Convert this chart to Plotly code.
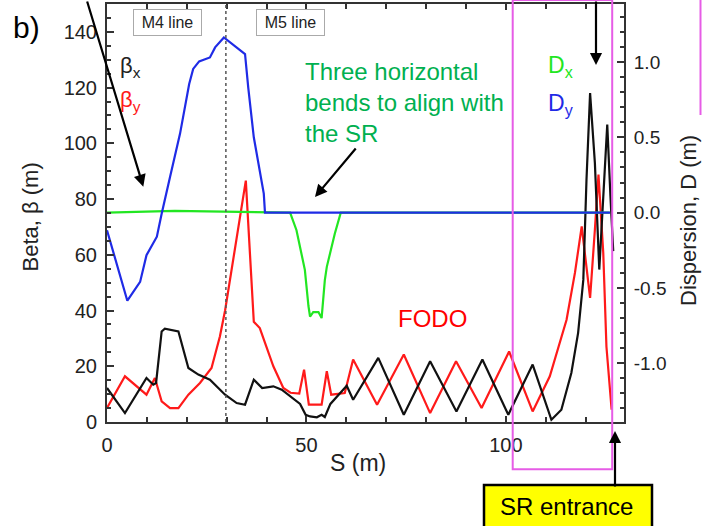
import plotly.graph_objects as go

# ---------------- data ----------------
s_bx = [0, 4.5, 9.9, 11.6, 12.3, 13.7, 14.5, 17.9, 20.4, 22.9, 25.8, 29.6, 32.5, 34.6,
        36.8, 38.9, 41.7, 43.8, 48.4, 49.8, 50.9, 52.6, 53.8, 54.6, 56.0, 58.0, 60.1,
        61.7, 68.0, 74.4, 81.0, 87.6, 94.1, 100.6, 106.7, 111.4, 113.9, 116.4, 118.1,
        119.4, 120.2, 121.1, 122.3, 123.4, 124.4, 125.4, 126.2, 126.9]
beta_x = [12.2, 3.2, 15.8, 13.4, 14.0, 32.5, 33.5, 32.5, 19.4, 17.0, 15.2, 9.8, 6.8, 6.2,
          15.2, 12.2, 12.8, 11.6, 6.5, 2.6, 2.0, 1.7, 2.6, 1.8, 6.5, 9.5, 13.0,
          8.0, 23.0, 2.6, 21.8, 3.8, 22.4, 2.6, 20.6, 0.8, 4.4, 17.6, 32.0,
          51.0, 87.0, 118.0, 93.0, 54.7, 79.8, 106.7, 81.0, 61.3]

s_by = [0, 4.5, 9.9, 12.0, 13.7, 15.8, 17.9, 20.4, 23.3, 26.2, 28.3, 29.6, 34.8, 36.2,
        36.8, 38.3, 41.7, 44.2, 46.0, 48.2, 49.4, 50.6, 53.8, 55.1, 56.2, 59.6, 61.7,
        67.7, 74.4, 81.0, 87.5, 93.9, 100.8, 106.7, 111.0, 115.2, 117.3, 119.0, 120.2,
        121.1, 122.3, 123.2, 124.4, 125.2, 126.5]
beta_y = [5.0, 16.4, 9.8, 15.8, 7.4, 5.0, 5.0, 9.8, 14.0, 19.4, 30.7, 40.0, 86.6, 51.0,
          36.0, 33.7, 20.0, 12.2, 10.5, 10.2, 18.8, 6.2, 6.2, 18.2, 9.8, 10.4, 22.4,
          6.2, 24.2, 3.2, 21.8, 5.0, 25.3, 3.8, 16.4, 36.7, 53.5, 70.2, 55.9,
          44.5, 69.0, 88.8, 60.7, 27.0, 4.4]

s_dx = [0, 10, 17, 25, 35, 45.9, 47.5, 48.8, 49.6, 50.5, 50.9, 51.7, 53.0, 53.8, 54.6,
        55.1, 55.9, 57.1, 58.6, 126.0]
disp_x = [0.0, 0.008, 0.012, 0.008, 0.003, 0.0, -0.117, -0.27, -0.38, -0.62, -0.69, -0.66,
          -0.66, -0.70, -0.45, -0.36, -0.27, -0.14, 0.0, 0.0]

s_dy = [0, 5.1, 8.3, 9.9, 12.5, 13.7, 15.8, 18.3, 20.6, 21.6, 23.1, 25.8, 27.1, 29.3,
        34.6, 35.4, 36.8, 38.3, 39.3, 39.6, 126.1]
disp_y = [-0.117, -0.585, -0.46, -0.283, -0.16, -0.007, 0.236, 0.523, 0.854, 0.954, 1.004,
          1.03, 1.097, 1.163, 1.053, 0.832, 0.50, 0.28, 0.126, 0.0, 0.0]

x_ticks = [0, 50, 100]
beta_ticks = [0, 20, 40, 60, 80, 100, 120, 140]
d_ticks = [-1.0, -0.5, 0.0, 0.5, 1.0]
d_labels = ["-1.0", "-0.5", "0.0", "0.5", "1.0"]
line_sep_s = 29.8

# ---------------- figure ----------------
W, H = 702, 526
ML, MR, MT, MB = 107, 78, 4, 104
PW, PH = W - ML - MR, H - MT - MB
FONT = "Liberation Sans, Arial, sans-serif"


def px(x):
    return (x - ML) / PW


def py(y):
    return (H - MB - y) / PH


fig = go.Figure()
fig.add_trace(go.Scatter(x=s_dx, y=disp_x, yaxis="y2", mode="lines",
                         line=dict(color="#22e622", width=2.2), name="Dx"))
fig.add_trace(go.Scatter(x=s_dy, y=disp_y, yaxis="y2", mode="lines",
                         line=dict(color="#1f2be6", width=2.2), name="Dy"))
fig.add_trace(go.Scatter(x=s_by, y=beta_y, mode="lines",
                         line=dict(color="#ff1a1a", width=2.2), name="βy"))
fig.add_trace(go.Scatter(x=s_bx, y=beta_x, mode="lines",
                         line=dict(color="#111111", width=2.2), name="βx"))

axis_col = "#333333"
fig.update_layout(
    width=W, height=H,
    margin=dict(l=ML, r=MR, t=MT, b=MB, autoexpand=False),
    paper_bgcolor="white", plot_bgcolor="white",
    showlegend=False,
    font=dict(family=FONT, color="#222222"),
    xaxis=dict(range=[0, 129.6], tickvals=x_ticks, ticks="inside", ticklen=6,
               tickwidth=1.5, tickcolor=axis_col,
               minor=dict(dtick=10, ticks="inside", ticklen=5, tickcolor=axis_col, tickwidth=1.5),
               showline=True, linecolor=axis_col, linewidth=2, mirror="ticks",
               showgrid=False, zeroline=False,
               tickfont=dict(size=20, color="#222222"), ticklabelstandoff=4),
    yaxis=dict(range=[0, 150], tickvals=beta_ticks, ticks="inside", ticklen=7,
               tickwidth=1.5, tickcolor=axis_col,
               minor=dict(dtick=5, ticks="inside", ticklen=4, tickcolor=axis_col, tickwidth=1.5),
               showline=True, linecolor=axis_col, linewidth=2,
               showgrid=False, zeroline=False,
               tickfont=dict(size=20, color="#222222"), ticklabelstandoff=4),
    yaxis2=dict(range=[-1.39, 1.385], overlaying="y", side="right",
                tickvals=d_ticks, ticktext=d_labels, ticks="inside", ticklen=7,
                tickwidth=1.5, tickcolor=axis_col,
                minor=dict(dtick=0.1, ticks="inside", ticklen=4, tickcolor=axis_col, tickwidth=1.5),
                showline=True, linecolor=axis_col, linewidth=2,
                showgrid=False, zeroline=False,
                tickfont=dict(size=19, color="#222222"), ticklabelstandoff=4),
)

shapes = []
# dotted separation line between M4 and M5 lines
shapes.append(dict(type="line", xref="x", yref="paper", x0=line_sep_s, x1=line_sep_s,
                   y0=0, y1=1, line=dict(color="#555555", width=1.5, dash="dot")))
# magenta highlight box
shapes.append(dict(type="rect", xref="paper", yref="paper",
                   x0=px(512.7), x1=px(612.2), y0=py(469.3), y1=py(0),
                   line=dict(color="#e65ce6", width=2)))
shapes.append(dict(type="line", xref="paper", yref="paper",
                   x0=px(700.5), x1=px(700.5), y0=py(115), y1=py(0),
                   line=dict(color="#e65ce6", width=2)))
# yellow SR entrance box
shapes.append(dict(type="rect", xref="paper", yref="paper",
                   x0=px(484), x1=px(652), y0=py(540), y1=py(485),
                   fillcolor="#ffff00", line=dict(color="black", width=2.5)))
fig.update_layout(shapes=shapes)

ann = []


def txt(text, x, y, size, color, xa="center", ya="middle", angle=0, **kw):
    d = dict(text=text, xref="paper", yref="paper", x=px(x), y=py(y), showarrow=False,
             xanchor=xa, yanchor=ya, textangle=angle,
             font=dict(family=FONT, size=size, color=color))
    d.update(kw)
    ann.append(d)


def arrow(x_tip, y_tip, x_tail, y_tail, width=2.2):
    ann.append(dict(text="", xref="paper", yref="paper", x=px(x_tip), y=py(y_tip),
                    ax=x_tail - x_tip, ay=y_tail - y_tip, showarrow=True,
                    arrowhead=2, arrowsize=1.1, arrowwidth=width, arrowcolor="black",
                    standoff=0, startstandoff=0))


txt("b)", 26, 27, 30, "black")
txt("M4 line", 167.2, 23, 16, "#222222", bgcolor="white", bordercolor="#aaaaaa",
    borderwidth=1, borderpad=0, width=67, height=25)
txt("M5 line", 290.5, 23, 16, "#222222", bgcolor="white", bordercolor="#aaaaaa",
    borderwidth=1, borderpad=0, width=67, height=25)
txt("β<sub>x</sub>", 118, 67, 22, "#222222", xa="left")
txt("β<sub>y</sub>", 118, 101, 22, "#ff1a1a", xa="left")
txt("D<sub>x</sub>", 546, 66, 23, "#22e622", xa="left")
txt("D<sub>y</sub>", 546, 104, 23, "#1f2be6", xa="left")
txt("Three horizontal<br>bends to align with<br>the SR", 303, 102, 24, "#00b050",
    xa="left", align="left")
txt("FODO", 432.5, 318, 24, "#ff0000")
txt("SR entrance", 566, 506, 24, "black")
txt("Beta, β (m)", 30, 217.5, 22, "#222222", angle=-90)
txt("Dispersion, D (m)", 688, 221, 22, "#222222", angle=-90)
txt("S (m)", 357.5, 463, 23, "#222222")

arrow(143.3, 186.7, 86.7, -2)
arrow(315, 197, 357, 147)
arrow(596, 65, 596, -2)
arrow(615, 431, 615, 488)

fig.update_layout(annotations=ann)
fig.write_html("out.html", config={"displayModeBar": False},
               post_script="document.body.style.margin='0';document.body.style.overflow='hidden';")
